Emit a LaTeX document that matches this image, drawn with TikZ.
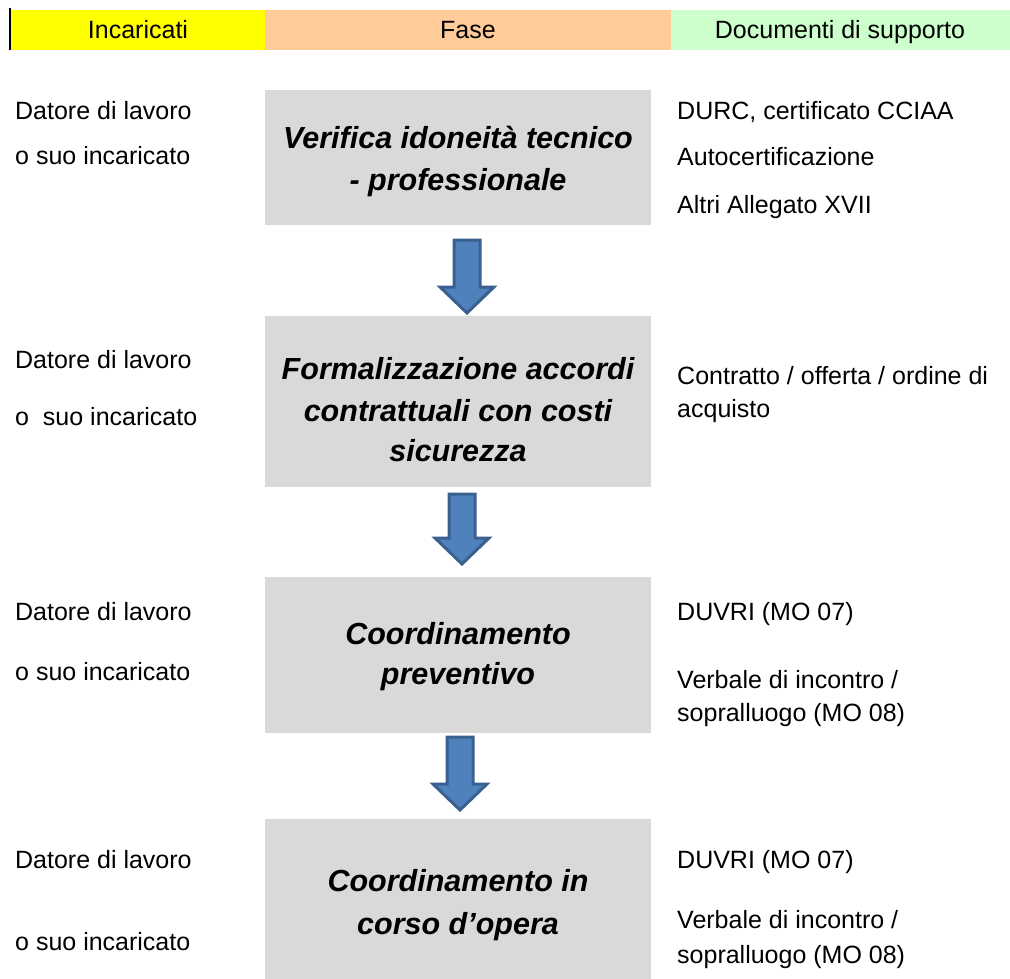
\documentclass[tikz,border=0pt]{standalone}
\usepackage{fontspec}
\setmainfont{Liberation Sans}
\begin{document}
\begin{tikzpicture}[x=1pt,y=-1pt,
  hdr/.style={inner sep=0pt,anchor=base,font=\fontsize{25}{30}\selectfont},
  side/.style={inner sep=0pt,anchor=base west,font=\fontsize{25}{30}\selectfont},
  phasebox/.style={fill=boxgray,draw=none,inner sep=0pt,minimum width=386pt},
  phasetxt/.style={inner sep=0pt,anchor=base,font=\fontsize{30.5}{42}\selectfont\bfseries\itshape},
  arrowstyle/.style={fill=arrowfill,draw=arrowline,line width=3pt,line join=miter},
  blockarrow/.pic={
    \path[arrowstyle] (-13,0) -- (13,0) -- (13,#1-26) -- (27,#1-26) -- (0,#1)
      -- (-27,#1-26) -- (-13,#1-26) -- cycle;}
]
\definecolor{boxgray}{HTML}{D9D9D9}
\definecolor{arrowfill}{HTML}{4F81BD}
\definecolor{arrowline}{HTML}{3A6090}
\definecolor{hyellow}{HTML}{FFFF00}
\definecolor{horange}{HTML}{FFCC99}
\definecolor{hgreen}{HTML}{CCFFCC}
\useasboundingbox (0,0) rectangle (1010,979);

% header band
\fill[hyellow] (10,10) rectangle (265,50);
\fill[horange] (265,10) rectangle (671,50);
\fill[hgreen] (671,10) rectangle (1010,50);
\draw[line width=1.5pt] (10,8) -- (10,50);
\node[hdr] (h1) at (138,39) {Incaricati};
\node[hdr] (h2) at (468,39) {Fase};
\node[hdr] (h3) at (840,39) {Documenti di supporto};

% phase boxes
\node[phasebox,minimum height=135pt] (b1) at (458,157.5) {};
\node[phasebox,minimum height=171pt] (b2) at (458,401.5) {};
\node[phasebox,minimum height=156pt] (b3) at (458,654.5) {};
\node[phasebox,minimum height=160pt] (b4) at (458,899) {};

% phase titles
\node[phasetxt] (t1a) at (458,149) {Verifica idoneità tecnico};
\node[phasetxt] (t1b) at (458,191) {- professionale};
\node[phasetxt] (t2a) at (458,379) {Formalizzazione accordi};
\node[phasetxt] (t2b) at (458,421) {contrattuali con costi};
\node[phasetxt] (t2c) at (458,461) {sicurezza};
\node[phasetxt] (t3a) at (458,644) {Coordinamento};
\node[phasetxt] (t3b) at (458,684) {preventivo};
\node[phasetxt] (t4a) at (458,891) {Coordinamento in};
\node[phasetxt] (t4b) at (458,934) {corso d’opera};

% arrows between phases
\coordinate (a1) at (467,240);
\coordinate (a2) at (462,494);
\coordinate (a3) at (460,737);
\pic at (a1) {blockarrow=73};
\pic at (a2) {blockarrow=70};
\pic at (a3) {blockarrow=73};

% people in charge
\node[side] (p1a) at (15,120) {Datore di lavoro};
\node[side] (p1b) at (15,165) {o suo incaricato};
\node[side] (p2a) at (15,368) {Datore di lavoro};
\node[side] (p2b) at (15,425) {o\ \ suo incaricato};
\node[side] (p3a) at (15,620) {Datore di lavoro};
\node[side] (p3b) at (15,680) {o suo incaricato};
\node[side] (p4a) at (15,868) {Datore di lavoro};
\node[side] (p4b) at (15,950) {o suo incaricato};

% supporting documents
\node[side] (d1a) at (677,120) {DURC, certificato CCIAA};
\node[side] (d1b) at (677,166) {Autocertificazione};
\node[side] (d1c) at (677,213) {Altri Allegato XVII};
\node[side] (d2a) at (677,384) {Contratto / offerta / ordine di};
\node[side] (d2b) at (677,417) {acquisto};
\node[side] (d3a) at (677,620) {DUVRI (MO 07)};
\node[side] (d3b) at (677,688) {Verbale di incontro /};
\node[side] (d3c) at (677,721) {sopralluogo (MO 08)};
\node[side] (d4a) at (677,868) {DUVRI (MO 07)};
\node[side] (d4b) at (677,928) {Verbale di incontro /};
\node[side] (d4c) at (677,963) {sopralluogo (MO 08)};
\end{tikzpicture}
\end{document}
